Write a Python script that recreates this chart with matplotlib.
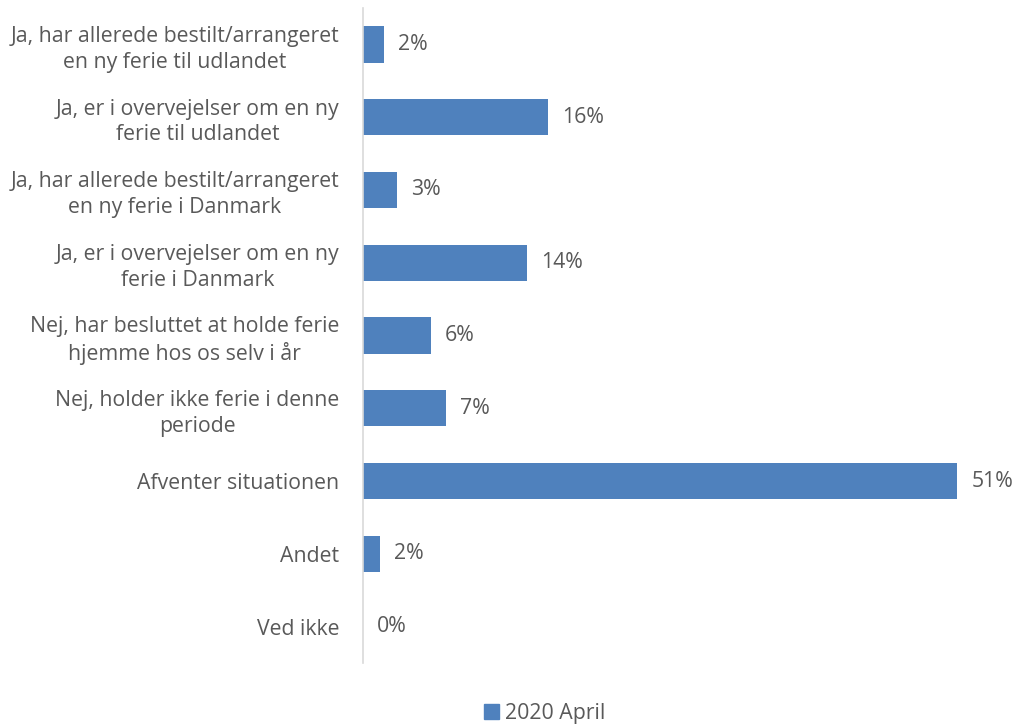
import matplotlib
matplotlib.use("Agg")
import matplotlib.pyplot as plt
from matplotlib.patches import Patch

categories = [
    "Ja, har allerede bestilt/arrangeret\nen ny ferie til udlandet",
    "Ja, er i overvejelser om en ny\nferie til udlandet",
    "Ja, har allerede bestilt/arrangeret\nen ny ferie i Danmark",
    "Ja, er i overvejelser om en ny\nferie i Danmark",
    "Nej, har besluttet at holde ferie\nhjemme hos os selv i år",
    "Nej, holder ikke ferie i denne\nperiode",
    "Afventer situationen",
    "Andet",
    "Ved ikke",
]
values = [1.8, 15.9, 2.9, 14.1, 5.8, 7.1, 51.0, 1.5, 0.0]
labels = ["2%", "16%", "3%", "14%", "6%", "7%", "51%", "2%", "0%"]
series_name = "2020 April"

bar_color = "#4F81BD"
text_color = "#595959"
fs = 15.3
plt.rcParams['font.family'] = ['Open Sans', 'DejaVu Sans']

fig = plt.figure(figsize=(10.16, 7.25), dpi=100)
ax = fig.add_axes([363/1016, 62/725, (1004-363)/1016, (717-62)/725])

y = list(range(len(categories)))
ax.barh(y, values, height=0.5, color=bar_color)
ax.set_ylim(len(categories) - 0.5, -0.5)
ax.set_xlim(0, 55)
ax.set_yticks(y)
ax.set_yticklabels(categories, fontsize=fs, color=text_color, multialignment='center',
                   linespacing=1.3)
ax.tick_params(axis='y', length=0, pad=17)
ax.set_xticks([])
for s in ['top', 'right', 'bottom']:
    ax.spines[s].set_visible(False)
ax.spines['left'].set_color('#D9D9D9')
ax.spines['left'].set_linewidth(1.2)

for yi, v, lab in zip(y, values, labels):
    ax.annotate(lab, (v, yi), xytext=(14, 0), textcoords='offset pixels',
                ha='left', va='center', fontsize=fs, color=text_color)

fig.legend(handles=[Patch(color=bar_color, label=series_name)], loc='center',
           bbox_to_anchor=(545/1016, 1 - 713/725), frameon=False, fontsize=fs,
           handlelength=0.7, handleheight=0.7, handletextpad=0.3, labelcolor=text_color)

fig.savefig("out.png", dpi=100)
